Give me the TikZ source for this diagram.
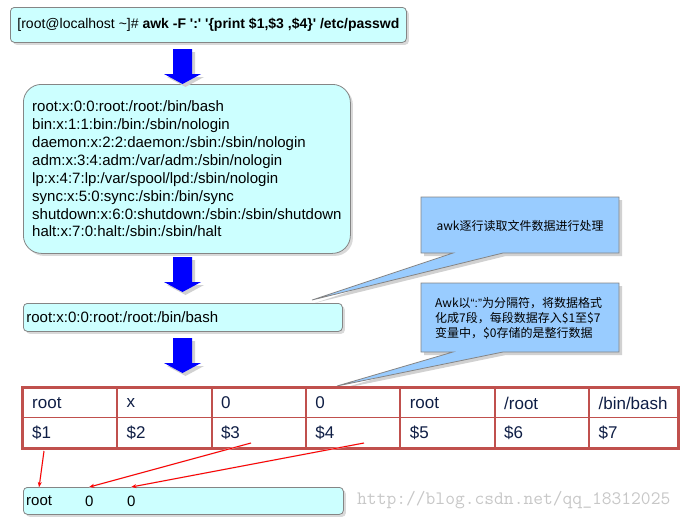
\documentclass[tikz,border=0pt]{standalone}
\usepackage{fontspec}
\setmainfont{Liberation Sans}
\newfontfamily\cjk{Noto Sans CJK SC}
\usepackage{xcolor}
\usetikzlibrary{shadows,arrows.meta,positioning,calc}
\definecolor{boxcyan}{HTML}{CCFFFF}
\definecolor{calloutblue}{HTML}{99CCFF}
\definecolor{boxline}{HTML}{858585}
\definecolor{tabred}{HTML}{C0504D}
\definecolor{tabtext}{HTML}{0F1E45}
\newcommand\sq{\textquotesingle}

\begin{document}
\begin{tikzpicture}[x=1pt, y=-1pt,
    cyanbox/.style={draw=boxline, fill=boxcyan, line width=0.8pt, rounded corners=4pt, inner sep=0pt,
        drop shadow={shadow xshift=2.5pt, shadow yshift=-2.5pt, fill=black!60, opacity=0.25}},
    cell/.style={font=\fontsize{17}{17}\selectfont, text=tabtext, inner sep=0pt, anchor=west},
    outtext/.style={font=\fontsize{15}{15}\selectfont, inner sep=0pt, anchor=west},
    tabframe/.style={draw=tabred, line width=3pt},
    tabline/.style={draw=tabred, line width=1.5pt},
    redarrow/.style={red, line width=1pt, -{Stealth[length=5pt, width=4pt]}},
    arrowshadow/.style={black!12, line width=1.5pt},
    callouttext/.style={font=\cjk\fontsize{12}{15}\selectfont, inner sep=0pt}]
    \useasboundingbox (0,0) rectangle (688,522);
    % 命令
    \node[cyanbox, anchor=north west, minimum width=396pt, minimum height=35pt, align=left,
        font=\fontsize{14}{14}\selectfont] (cmd) at (10,7)
        {[root@localhost \textasciitilde]\# \textbf{awk -F \sq:\sq\ \sq\{print \$1,\$3 ,\$4\}\sq\ /etc/passwd}};
    % /etc/passwd 的内容
    \node[cyanbox, rounded corners=18pt, anchor=north west, minimum width=327pt, minimum height=169pt, align=left,
        font=\fontsize{15}{17.9}\selectfont] (passwd) at (23,84)
        {root:x:0:0:root:/root:/bin/bash\\
         bin:x:1:1:bin:/bin:/sbin/nologin\\
         daemon:x:2:2:daemon:/sbin:/sbin/nologin\\
         adm:x:3:4:adm:/var/adm:/sbin/nologin\\
         lp:x:4:7:lp:/var/spool/lpd:/sbin/nologin\\
         sync:x:5:0:sync:/sbin:/bin/sync\\
         shutdown:x:6:0:shutdown:/sbin:/sbin/shutdown\\
         halt:x:7:0:halt:/sbin:/sbin/halt};
    % 读入的一行
    \node[cyanbox, anchor=north west, minimum width=319pt, minimum height=28pt, text width=313pt, align=left,
        font=\fontsize{15}{15}\selectfont] (record) at (23,303) {root:x:0:0:root:/root:/bin/bash};
    % 蓝色箭头
    \foreach \y in {49,257,338} {
        \fill[black!18, shift={(3,3)}] (173,\y) -- (192,\y) -- (192,\y+25) -- (201,\y+25) -- (182.5,\y+35)
            -- (164,\y+25) -- (173,\y+25) -- cycle;
        \fill[blue] (173,\y) -- (192,\y) -- (192,\y+25) -- (201,\y+25) -- (182.5,\y+35)
            -- (164,\y+25) -- (173,\y+25) -- cycle;
    }
    % 说明框
    \foreach \ya/\yb/\tipx/\tipy in {197/253/312/300, 283/352/337/386} {
        \fill[black!18, shift={(3,3)}] (421,\ya) -- (619,\ya) -- (619,\yb) -- (503,\yb) -- (\tipx,\tipy)
            -- (453,\yb) -- (421,\yb) -- cycle;
        \draw[boxline, fill=calloutblue, line width=0.8pt] (421,\ya) -- (619,\ya) -- (619,\yb) -- (503,\yb)
            -- (\tipx,\tipy) -- (453,\yb) -- (421,\yb) -- cycle;
    }
    \node[callouttext] (note1) at (520,226) {awk逐行读取文件数据进行处理};
    \node[callouttext, align=left, anchor=west] (note2) at (435,318)
        {Awk以{\rmfamily“:”}为分隔符，将数据格式\\化成7段，每段数据存入\$1至\$7\\变量中，\$0存储的是整行数据};
    % 字段表
    \foreach \txt [count=\i] in {root,x,0,0,root,/root,/bin/bash} {
        \node[cell] (f\i) at ({32+94.4*(\i-1)},403) {\txt};
        \node[cell] (v\i) at ({32+94.4*(\i-1)},433) {\$\i};
    }
    \foreach \x in {117,212,306,400,495,589} {
        \draw[tabline] (\x,387) -- (\x,448);
    }
    \draw[tabline] (22,417.5) -- (678,417.5);
    \draw[tabframe] (22,387) rectangle (678,448);
    % 输出
    \node[cyanbox, anchor=north west, minimum width=320pt, minimum height=27pt] (out) at (23,487) {};
    \node[outtext] (o1) at (26,501) {root};
    \node[outtext] (o3) at (85,501) {0};
    \node[outtext] (o4) at (127,501) {0};
    \coordinate (s1) at (44,451);
    \coordinate (s3) at (251,443);
    \coordinate (s4) at (364,443);
    \foreach \a/\b in {s1/o1, s3/o3, s4/o4} {
        \draw[arrowshadow, shift={(3,1)}] (\a) -- (\b.north |- out.north);
        \draw[redarrow] (\a) -- (\b.north |- out.north);
    }
    \node[anchor=west, font=\ttfamily\fontsize{19}{19}\selectfont, text=black!22, inner sep=0pt] (mark) at (357,500)
        {http://blog.csdn.net/qq\_18312025};
\end{tikzpicture}
\end{document}
